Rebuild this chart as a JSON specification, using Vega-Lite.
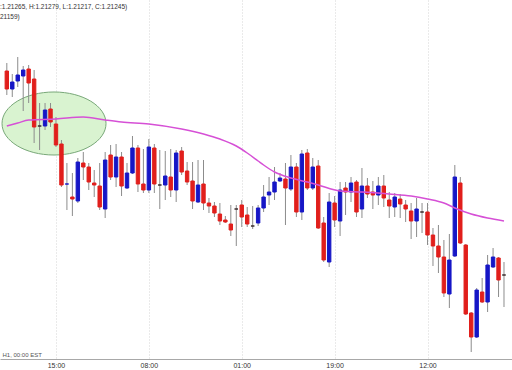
{
  "$schema": "https://vega.github.io/schema/vega-lite/v6.json",
  "width": 512,
  "height": 359,
  "autosize": {"type": "none"},
  "padding": {"left": 0, "right": 0, "top": 0, "bottom": 11},
  "background": "white",
  "config": {"view": {"stroke": null}, "font": "Liberation Sans"},
  "title": {
    "text": ":1.21265, H:1.21279, L:1.21217, C:1.21245)",
    "subtitle": "21159)",
    "anchor": "start",
    "frame": "group",
    "orient": "top",
    "offset": -20,
    "fontSize": 6.5,
    "fontWeight": "normal",
    "color": "#333333",
    "subtitleFontSize": 6.5,
    "subtitleColor": "#333333",
    "subtitlePadding": 3,
    "font": "Liberation Sans",
    "subtitleFont": "Liberation Sans"
  },
  "datasets": {
    "zone": [{"i": 8.64, "p": 1.214765}],
    "ma": [
      {"i": 0, "ma": 1.21474}, {"i": 2, "ma": 1.21477}, {"i": 4, "ma": 1.2148}, {"i": 9, "ma": 1.21481},
      {"i": 14, "ma": 1.21483}, {"i": 18, "ma": 1.2148}, {"i": 21, "ma": 1.21478}, {"i": 26, "ma": 1.21476},
      {"i": 32, "ma": 1.21471}, {"i": 36, "ma": 1.21466}, {"i": 39, "ma": 1.21461}, {"i": 42, "ma": 1.21454},
      {"i": 44, "ma": 1.21447}, {"i": 46, "ma": 1.21439}, {"i": 47, "ma": 1.21435}, {"i": 49, "ma": 1.21428},
      {"i": 52, "ma": 1.21422}, {"i": 55, "ma": 1.21418}, {"i": 57, "ma": 1.21415}, {"i": 61, "ma": 1.21409},
      {"i": 65, "ma": 1.21408}, {"i": 70, "ma": 1.21406}, {"i": 74, "ma": 1.21404}, {"i": 77, "ma": 1.21401},
      {"i": 80, "ma": 1.21397}, {"i": 82, "ma": 1.21392}, {"i": 85, "ma": 1.21386}, {"i": 88, "ma": 1.21382},
      {"i": 91, "ma": 1.21379}
    ],
    "candles": [
      {"i": 0, "open": 1.21529, "high": 1.21537, "low": 1.21505, "close": 1.21511, "dir": "down"},
      {"i": 1, "open": 1.21511, "high": 1.21526, "low": 1.21503, "close": 1.21518, "dir": "up"},
      {"i": 2, "open": 1.21519, "high": 1.21543, "low": 1.21513, "close": 1.21525, "dir": "up"},
      {"i": 3, "open": 1.21524, "high": 1.21534, "low": 1.21489, "close": 1.2153, "dir": "up"},
      {"i": 4, "open": 1.21531, "high": 1.21535, "low": 1.21497, "close": 1.21517, "dir": "down"},
      {"i": 5, "open": 1.21521, "high": 1.2153, "low": 1.21457, "close": 1.21473, "dir": "down"},
      {"i": 6, "open": 1.21474, "high": 1.21497, "low": 1.2145, "close": 1.21474, "dir": "flat"},
      {"i": 7, "open": 1.21474, "high": 1.21497, "low": 1.2147, "close": 1.2149, "dir": "up"},
      {"i": 8, "open": 1.21491, "high": 1.21497, "low": 1.21473, "close": 1.21478, "dir": "down"},
      {"i": 9, "open": 1.21476, "high": 1.21483, "low": 1.21453, "close": 1.21455, "dir": "down"},
      {"i": 10, "open": 1.21456, "high": 1.2146, "low": 1.21413, "close": 1.21415, "dir": "down"},
      {"i": 11, "open": 1.21416, "high": 1.21437, "low": 1.2139, "close": 1.21416, "dir": "up"},
      {"i": 12, "open": 1.21403, "high": 1.21427, "low": 1.21384, "close": 1.21401, "dir": "down"},
      {"i": 13, "open": 1.21399, "high": 1.21442, "low": 1.21397, "close": 1.21438, "dir": "up"},
      {"i": 14, "open": 1.21437, "high": 1.21448, "low": 1.2142, "close": 1.21433, "dir": "down"},
      {"i": 15, "open": 1.21433, "high": 1.21437, "low": 1.2141, "close": 1.21418, "dir": "down"},
      {"i": 16, "open": 1.21417, "high": 1.2143, "low": 1.21403, "close": 1.21415, "dir": "down"},
      {"i": 17, "open": 1.21414, "high": 1.21437, "low": 1.2139, "close": 1.21393, "dir": "down"},
      {"i": 18, "open": 1.21391, "high": 1.21448, "low": 1.21382, "close": 1.2144, "dir": "up"},
      {"i": 19, "open": 1.21445, "high": 1.21455, "low": 1.2142, "close": 1.21423, "dir": "down"},
      {"i": 20, "open": 1.21423, "high": 1.21456, "low": 1.21413, "close": 1.21443, "dir": "up"},
      {"i": 21, "open": 1.21443, "high": 1.21448, "low": 1.21404, "close": 1.21414, "dir": "down"},
      {"i": 22, "open": 1.21412, "high": 1.21437, "low": 1.21411, "close": 1.21427, "dir": "up"},
      {"i": 23, "open": 1.21427, "high": 1.21464, "low": 1.21426, "close": 1.21452, "dir": "up"},
      {"i": 24, "open": 1.21452, "high": 1.21455, "low": 1.21408, "close": 1.21416, "dir": "down"},
      {"i": 25, "open": 1.21416, "high": 1.21451, "low": 1.21407, "close": 1.2141, "dir": "down"},
      {"i": 26, "open": 1.2141, "high": 1.21461, "low": 1.21407, "close": 1.21453, "dir": "up"},
      {"i": 27, "open": 1.21452, "high": 1.21456, "low": 1.21407, "close": 1.21416, "dir": "down"},
      {"i": 28, "open": 1.21415, "high": 1.2145, "low": 1.21391, "close": 1.21415, "dir": "flat"},
      {"i": 29, "open": 1.21415, "high": 1.21449, "low": 1.214, "close": 1.21424, "dir": "up"},
      {"i": 30, "open": 1.21423, "high": 1.21451, "low": 1.21403, "close": 1.2141, "dir": "down"},
      {"i": 31, "open": 1.2141, "high": 1.2145, "low": 1.21398, "close": 1.21447, "dir": "up"},
      {"i": 32, "open": 1.21449, "high": 1.21453, "low": 1.21425, "close": 1.21428, "dir": "down"},
      {"i": 33, "open": 1.21429, "high": 1.21438, "low": 1.21415, "close": 1.21418, "dir": "down"},
      {"i": 34, "open": 1.21419, "high": 1.21438, "low": 1.21391, "close": 1.21399, "dir": "down"},
      {"i": 35, "open": 1.21398, "high": 1.2144, "low": 1.21397, "close": 1.21415, "dir": "up"},
      {"i": 36, "open": 1.21416, "high": 1.2144, "low": 1.2139, "close": 1.21397, "dir": "down"},
      {"i": 37, "open": 1.21397, "high": 1.21402, "low": 1.21387, "close": 1.21394, "dir": "down"},
      {"i": 38, "open": 1.21394, "high": 1.21398, "low": 1.21383, "close": 1.21387, "dir": "down"},
      {"i": 39, "open": 1.21386, "high": 1.21397, "low": 1.21375, "close": 1.21379, "dir": "down"},
      {"i": 40, "open": 1.2138, "high": 1.21384, "low": 1.21377, "close": 1.21378, "dir": "down"},
      {"i": 41, "open": 1.21376, "high": 1.21395, "low": 1.21364, "close": 1.2137, "dir": "down"},
      {"i": 42, "open": 1.21391, "high": 1.21395, "low": 1.21354, "close": 1.21391, "dir": "flat"},
      {"i": 43, "open": 1.21395, "high": 1.214, "low": 1.21373, "close": 1.21383, "dir": "down"},
      {"i": 44, "open": 1.21385, "high": 1.21393, "low": 1.21373, "close": 1.21376, "dir": "down"},
      {"i": 45, "open": 1.21374, "high": 1.21394, "low": 1.21371, "close": 1.21374, "dir": "flat"},
      {"i": 46, "open": 1.21377, "high": 1.21395, "low": 1.21374, "close": 1.21392, "dir": "up"},
      {"i": 47, "open": 1.21392, "high": 1.21415, "low": 1.21388, "close": 1.21403, "dir": "up"},
      {"i": 48, "open": 1.21405, "high": 1.21423, "low": 1.21395, "close": 1.21408, "dir": "up"},
      {"i": 49, "open": 1.21408, "high": 1.21433, "low": 1.214, "close": 1.21418, "dir": "up"},
      {"i": 50, "open": 1.21419, "high": 1.21427, "low": 1.21418, "close": 1.21422, "dir": "up"},
      {"i": 51, "open": 1.21421, "high": 1.21437, "low": 1.21375, "close": 1.21412, "dir": "down"},
      {"i": 52, "open": 1.21411, "high": 1.21445, "low": 1.21409, "close": 1.21433, "dir": "up"},
      {"i": 53, "open": 1.21433, "high": 1.21437, "low": 1.21383, "close": 1.21388, "dir": "down"},
      {"i": 54, "open": 1.21388, "high": 1.2145, "low": 1.2138, "close": 1.21446, "dir": "up"},
      {"i": 55, "open": 1.21447, "high": 1.21451, "low": 1.2141, "close": 1.21412, "dir": "down"},
      {"i": 56, "open": 1.21412, "high": 1.21442, "low": 1.2141, "close": 1.21433, "dir": "up"},
      {"i": 57, "open": 1.21434, "high": 1.2144, "low": 1.21371, "close": 1.21372, "dir": "down"},
      {"i": 58, "open": 1.21377, "high": 1.21383, "low": 1.21338, "close": 1.2134, "dir": "down"},
      {"i": 59, "open": 1.21338, "high": 1.21407, "low": 1.21333, "close": 1.21398, "dir": "up"},
      {"i": 60, "open": 1.21397, "high": 1.21404, "low": 1.21373, "close": 1.2138, "dir": "down"},
      {"i": 61, "open": 1.21379, "high": 1.21418, "low": 1.21364, "close": 1.2141, "dir": "up"},
      {"i": 62, "open": 1.21412, "high": 1.21418, "low": 1.21385, "close": 1.21408, "dir": "down"},
      {"i": 63, "open": 1.21408, "high": 1.21423, "low": 1.21398, "close": 1.21417, "dir": "up"},
      {"i": 64, "open": 1.21418, "high": 1.2142, "low": 1.21383, "close": 1.21388, "dir": "down"},
      {"i": 65, "open": 1.21391, "high": 1.21432, "low": 1.21382, "close": 1.21414, "dir": "up"},
      {"i": 66, "open": 1.21414, "high": 1.21422, "low": 1.21402, "close": 1.21406, "dir": "down"},
      {"i": 67, "open": 1.21408, "high": 1.21419, "low": 1.21391, "close": 1.21405, "dir": "down"},
      {"i": 68, "open": 1.21405, "high": 1.21423, "low": 1.21395, "close": 1.21414, "dir": "up"},
      {"i": 69, "open": 1.21414, "high": 1.21425, "low": 1.21393, "close": 1.21402, "dir": "down"},
      {"i": 70, "open": 1.214, "high": 1.21408, "low": 1.21382, "close": 1.21394, "dir": "down"},
      {"i": 71, "open": 1.21393, "high": 1.21407, "low": 1.21383, "close": 1.21403, "dir": "up"},
      {"i": 72, "open": 1.21401, "high": 1.21406, "low": 1.21382, "close": 1.21396, "dir": "down"},
      {"i": 73, "open": 1.21395, "high": 1.214, "low": 1.21378, "close": 1.21391, "dir": "down"},
      {"i": 74, "open": 1.21389, "high": 1.21397, "low": 1.21361, "close": 1.21379, "dir": "down"},
      {"i": 75, "open": 1.21379, "high": 1.21402, "low": 1.21363, "close": 1.21391, "dir": "up"},
      {"i": 76, "open": 1.21388, "high": 1.21397, "low": 1.21367, "close": 1.21388, "dir": "flat"},
      {"i": 77, "open": 1.21388, "high": 1.21397, "low": 1.21355, "close": 1.21365, "dir": "down"},
      {"i": 78, "open": 1.21365, "high": 1.21372, "low": 1.21334, "close": 1.21354, "dir": "down"},
      {"i": 79, "open": 1.21354, "high": 1.21375, "low": 1.21327, "close": 1.21343, "dir": "down"},
      {"i": 80, "open": 1.21343, "high": 1.2136, "low": 1.21303, "close": 1.21307, "dir": "down"},
      {"i": 81, "open": 1.21306, "high": 1.21366, "low": 1.21292, "close": 1.2134, "dir": "up"},
      {"i": 82, "open": 1.21344, "high": 1.21435, "low": 1.21343, "close": 1.21423, "dir": "up"},
      {"i": 83, "open": 1.21417, "high": 1.21423, "low": 1.21356, "close": 1.21357, "dir": "down"},
      {"i": 84, "open": 1.21355, "high": 1.21356, "low": 1.21285, "close": 1.21286, "dir": "down"},
      {"i": 85, "open": 1.21287, "high": 1.21288, "low": 1.21248, "close": 1.21263, "dir": "down"},
      {"i": 86, "open": 1.21263, "high": 1.21312, "low": 1.21262, "close": 1.2131, "dir": "up"},
      {"i": 87, "open": 1.21308, "high": 1.21322, "low": 1.21297, "close": 1.21298, "dir": "down"},
      {"i": 88, "open": 1.21298, "high": 1.21345, "low": 1.21288, "close": 1.21335, "dir": "up"},
      {"i": 89, "open": 1.21333, "high": 1.21352, "low": 1.21332, "close": 1.21343, "dir": "up"},
      {"i": 90, "open": 1.21342, "high": 1.21343, "low": 1.21303, "close": 1.2132, "dir": "down"},
      {"i": 91, "open": 1.21325, "high": 1.21338, "low": 1.21293, "close": 1.21325, "dir": "flat"}
    ]
  },
  "encoding": {
    "x": {
      "field": "i",
      "type": "quantitative",
      "scale": {"domain": [-0.332, 91.55], "nice": false, "zero": false},
      "axis": {
        "values": [9, 26, 43, 60, 77],
        "labelExpr": "datum.value == 9 ? '15:00' : datum.value == 26 ? '08:00' : datum.value == 43 ? '01:00' : datum.value == 60 ? '19:00' : '12:00'",
        "grid": true,
        "gridColor": "#d4d4d4",
        "gridDash": [1, 2],
        "ticks": false,
        "domainColor": "#a8a8a8",
        "labelFontSize": 7,
        "labelColor": "#333333",
        "labelPadding": 2,
        "labelFlush": false,
        "title": "H1, 00:00 EST",
        "titleFontSize": 6,
        "titleFontWeight": "normal",
        "titleColor": "#555555",
        "titleAnchor": "start",
        "titleAlign": "left",
        "titleBaseline": "bottom",
        "titleX": 2,
        "titleY": -2
      }
    }
  },
  "layer": [
    {
      "data": {"name": "zone"},
      "mark": {
        "type": "point",
        "shape": "M -1 0 C -1 -0.335 -0.552 -0.606 0 -0.606 C 0.552 -0.606 1 -0.335 1 0 C 1 0.335 0.552 0.606 0 0.606 C -0.552 0.606 -1 0.335 -1 0 Z",
        "size": 10816,
        "filled": true,
        "fill": "#d9f3d0",
        "stroke": "#78a878",
        "strokeWidth": 1,
        "opacity": 1
      },
      "encoding": {
        "y": {
          "field": "p",
          "type": "quantitative",
          "scale": {"domain": [1.21241, 1.216], "nice": false, "zero": false},
          "axis": {
            "values": [1.216, 1.21559, 1.21501, 1.21443, 1.21384, 1.21326, 1.21268],
            "grid": true,
            "gridColor": {"condition": {"test": "datum.value >= 1.216", "value": "#a0a0a0"}, "value": "#e4e4e4"},
            "gridDash": {"condition": {"test": "datum.value >= 1.216", "value": []}, "value": [1, 2]},
            "labels": false,
            "ticks": false,
            "domain": false,
            "title": null
          }
        }
      }
    },
    {
      "data": {"name": "candles"},
      "mark": {"type": "rule", "color": "#8c8c8c", "strokeWidth": 1},
      "encoding": {
        "y": {"field": "high", "type": "quantitative", "axis": null},
        "y2": {"field": "low"}
      }
    },
    {
      "data": {"name": "candles"},
      "mark": {"type": "bar", "size": 3.4, "strokeWidth": 1},
      "encoding": {
        "y": {"field": "open", "type": "quantitative", "axis": null},
        "y2": {"field": "close"},
        "color": {
          "field": "dir",
          "type": "nominal",
          "scale": {"domain": ["down", "up", "flat"], "range": ["#e11f1c", "#1616c6", "#3a2c2c"]},
          "legend": null
        },
        "stroke": {
          "field": "dir",
          "type": "nominal",
          "scale": {"domain": ["down", "up", "flat"], "range": ["#e11f1c", "#1616c6", "#3a2c2c"]},
          "legend": null
        }
      }
    },
    {
      "data": {"name": "ma"},
      "mark": {"type": "line", "color": "#d650d6", "strokeWidth": 1.5, "interpolate": "monotone"},
      "encoding": {
        "y": {"field": "ma", "type": "quantitative", "axis": null}
      }
    }
  ]
}
